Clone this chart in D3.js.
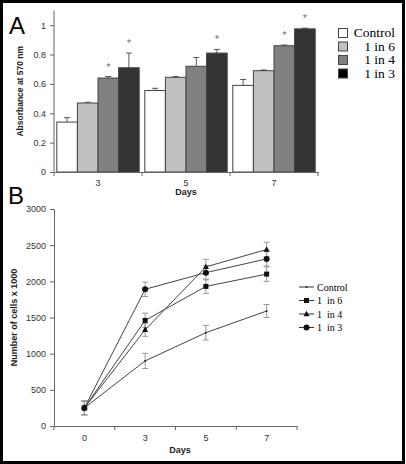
<!DOCTYPE html>
<html><head><meta charset="utf-8">
<script src="https://cdn.jsdelivr.net/npm/d3@7"></script>
<style>
body{margin:0;background:#fff;}
svg{display:block;font-family:Arial, "Liberation Sans", sans-serif;}
</style></head>
<body>
<svg id="c" width="406" height="464"></svg>
<script>
// ---------- Panel A data ----------
const daysA = ["3","5","7"];
const seriesNames = ["Control","1 in 6","1 in 4","1 in 3"];
const barColors = ["#ffffff","#c0c0c0","#808080","#333333"];
const legendColors = ["#ffffff","#c0c0c0","#808080","#000000"];
const absControl = [0.34, 0.555, 0.59];
const absSix     = [0.47, 0.645, 0.69];
const absFour    = [0.64, 0.72, 0.86];
const absThree   = [0.71, 0.81, 0.975];
const errControl = [0.03, 0.015, 0.04];
const errSix     = [0.005, 0.005, 0.005];
const errFour    = [0.01, 0.06, 0.005];
const errThree   = [0.10, 0.025, 0.005];
const starFour   = [true, false, true];
const starThree  = [true, true, true];
const yTicksA = [0, 0.2, 0.4, 0.6, 0.8, 1];
const yTickLabelsA = ["0","0.2","0.4","0.6","0.8","1"];

// ---------- Panel B data ----------
const daysB = ["0","3","5","7"];
const cellsControl = [250, 900, 1290, 1590];
const cellsSix     = [250, 1460, 1930, 2100];
const cellsFour    = [250, 1330, 2200, 2440];
const cellsThree   = [250, 1890, 2120, 2310];
const cerrControl  = [95, 105, 100, 90];
const cerrSix      = [95, 100, 100, 100];
const cerrFour     = [95, 90, 105, 100];
const cerrThree    = [95, 100, 100, 100];
const yTicksB = [0, 500, 1000, 1500, 2000, 2500, 3000];

const svg = d3.select("#c");
const axisColor = "#666";
const labelColor = "#333";
const serif = "'Liberation Serif','Times New Roman',serif";

// frame
svg.append("rect").attr("x",1.5).attr("y",1.5).attr("width",402).attr("height",461)
  .attr("fill","none").attr("stroke","#000").attr("stroke-width",3);

// ================= Panel A =================
const absVals = [absControl, absSix, absFour, absThree];
const absErr = [errControl, errSix, errFour, errThree];
const stars = [[false,false,false],[false,false,false], starFour, starThree];

const xA = d3.scaleBand().domain(daysA).range([54, 318]).paddingInner(0).paddingOuter(0);
const xInner = d3.scaleBand().domain(seriesNames).range([0, xA.bandwidth()]).paddingOuter(0.136);
const yA = d3.scaleLinear().domain([0, 1.1]).range([172, 10.5]);

const gA = svg.append("g");
seriesNames.forEach((s, si) => {
  daysA.forEach((d, di) => {
    const v = absVals[si][di];
    const x0 = xA(d) + xInner(s);
    const w = xInner.bandwidth();
    const e = absErr[si][di];
    gA.append("line").attr("x1", x0 + w/2).attr("x2", x0 + w/2)
      .attr("y1", yA(v)).attr("y2", yA(v + e)).attr("stroke","#555").attr("stroke-width",1);
    gA.append("line").attr("x1", x0 + w/2 - 3).attr("x2", x0 + w/2 + 3)
      .attr("y1", yA(v + e)).attr("y2", yA(v + e)).attr("stroke","#555").attr("stroke-width",1);
    gA.append("rect").attr("x", x0).attr("y", yA(v)).attr("width", w).attr("height", yA(0) - yA(v))
      .attr("fill", barColors[si]).attr("stroke","#444").attr("stroke-width",1);
    if (stars[si][di]) {
      gA.append("text").attr("x", x0 + w/2).attr("y", yA(v + e) - 6)
        .attr("text-anchor","middle").attr("font-size",11).attr("fill","#777").text("*");
    }
  });
});

const yAxisA = d3.axisLeft(yA).tickValues(yTicksA).tickSize(4)
  .tickFormat((d,i) => yTickLabelsA[i]);
const gyA = gA.append("g").attr("transform","translate(54,0)").call(yAxisA);
gyA.attr("font-family",null);
gyA.select(".domain").attr("stroke",axisColor).attr("d", `M-0,${yA(1.1)}V${yA(0)}`);
gyA.selectAll(".tick line").attr("stroke",axisColor);
gyA.selectAll(".tick text").attr("font-size",9).attr("fill",labelColor).attr("dx",-1);

const xAxisA = d3.axisBottom(xA).tickSize(0).tickPadding(8);
const gxA = gA.append("g").attr("transform",`translate(0,${yA(0)})`).call(xAxisA);
gxA.attr("font-family",null);
gxA.select(".domain").attr("stroke",axisColor);
gxA.selectAll(".tick text").attr("font-size",9).attr("fill",labelColor);
const bndA = daysA.map(d => xA(d)).concat([xA(daysA[daysA.length-1]) + xA.bandwidth()]);
gxA.selectAll(".bt").data(bndA).enter().append("line")
  .attr("x1",d=>d).attr("x2",d=>d).attr("y1",0).attr("y2",4).attr("stroke",axisColor);

gA.append("text").attr("x",186).attr("y",195).attr("text-anchor","middle")
  .attr("font-size",9).attr("font-weight","bold").attr("fill","#222").text("Days");
gA.append("text").attr("transform",`translate(23,${(yA(0)+yA(1.1))/2}) rotate(-90)`)
  .attr("text-anchor","middle").attr("font-size",8.5).attr("font-weight","bold").attr("fill","#222")
  .text("Absorbance at 570 nm");
gA.append("text").attr("x",9).attr("y",34).attr("font-size",24).attr("fill","#000").text("A");

const legA = gA.append("g");
seriesNames.forEach((s, i) => {
  const yy = 33 + i*13.5;
  legA.append("rect").attr("x",338.5).attr("y",yy-4.5).attr("width",9).attr("height",9)
    .attr("fill",legendColors[i]).attr("stroke","#444").attr("stroke-width",1);
  legA.append("text").attr("x",395).attr("y",yy+4).attr("text-anchor","end")
    .style("font-family",serif).attr("font-size",13.5)
    .attr("fill","#000").text(s);
});

// ================= Panel B =================
const cells = [cellsControl, cellsSix, cellsFour, cellsThree];
const cerr = [cerrControl, cerrSix, cerrFour, cerrThree];
const xB = d3.scaleBand().domain(daysB).range([54, 297]);
const yB = d3.scaleLinear().domain([0, 3000]).range([426, 209]);
const cx = d => xB(d) + xB.bandwidth()/2;

const gB = svg.append("g");
const yAxisB = d3.axisLeft(yB).tickValues(yTicksB).tickSize(4).tickFormat(d3.format("d"));
const gyB = gB.append("g").attr("transform","translate(54,0)").call(yAxisB);
gyB.attr("font-family",null);
gyB.select(".domain").attr("stroke",axisColor);
gyB.selectAll(".tick line").attr("stroke",axisColor);
gyB.selectAll(".tick text").attr("font-size",9).attr("fill",labelColor).attr("dx",-1);

const xAxisB = d3.axisBottom(xB).tickSize(0).tickPadding(9);
const gxB = gB.append("g").attr("transform",`translate(0,${yB(0)})`).call(xAxisB);
gxB.attr("font-family",null);
gxB.select(".domain").attr("stroke",axisColor);
gxB.selectAll(".tick text").attr("font-size",9).attr("fill",labelColor);
const bndB = daysB.map(d => xB(d)).concat([xB(daysB[daysB.length-1]) + xB.bandwidth()]);
gxB.selectAll(".bt").data(bndB).enter().append("line")
  .attr("x1",d=>d).attr("x2",d=>d).attr("y1",0).attr("y2",4).attr("stroke",axisColor);

gB.append("text").attr("x",180).attr("y",453).attr("text-anchor","middle")
  .attr("font-size",9).attr("font-weight","bold").attr("fill","#222").text("Days");
gB.append("text").attr("transform",`translate(17,${(yB(0)+yB(3000))/2}) rotate(-90)`)
  .attr("text-anchor","middle").attr("font-size",9).attr("font-weight","bold").attr("fill","#222")
  .text("Number of cells x 1000");
gB.append("text").attr("x",8).attr("y",204).attr("font-size",24).attr("fill","#000").text("B");

cells.forEach((arr, si) => {
  arr.forEach((v, di) => {
    const x = cx(daysB[di]), e = cerr[si][di];
    gB.append("line").attr("x1",x).attr("x2",x).attr("y1",yB(v-e)).attr("y2",yB(v+e))
      .attr("stroke","#999").attr("stroke-width",1);
    [v-e, v+e].forEach(t => gB.append("line").attr("x1",x-3).attr("x2",x+3)
      .attr("y1",yB(t)).attr("y2",yB(t)).attr("stroke","#999").attr("stroke-width",1));
  });
});
const line = d3.line().x((d,i)=>cx(daysB[i])).y(d=>yB(d));
cells.forEach(arr => {
  gB.append("path").attr("d", line(arr)).attr("fill","none").attr("stroke","#444").attr("stroke-width",1);
});
function marker(g, type, x, y) {
  if (type === 0) g.append("circle").attr("cx",x).attr("cy",y).attr("r",1).attr("fill","#222");
  else if (type === 1) g.append("rect").attr("x",x-2.5).attr("y",y-2.5).attr("width",5).attr("height",5).attr("fill","#111");
  else if (type === 2) g.append("path").attr("d",`M${x},${y-3.2}L${x+3},${y+2.2}L${x-3},${y+2.2}Z`).attr("fill","#111");
  else g.append("circle").attr("cx",x).attr("cy",y).attr("r",3).attr("fill","#111");
}
cells.forEach((arr, si) => arr.forEach((v, di) => marker(gB, si, cx(daysB[di]), yB(v))));

const legB = gB.append("g");
seriesNames.forEach((s, i) => {
  const yy = 287 + i*13.5;
  legB.append("line").attr("x1",299).attr("x2",314).attr("y1",yy).attr("y2",yy)
    .attr("stroke","#333").attr("stroke-width",1);
  marker(legB, i, 306.5, yy);
  legB.append("text").attr("x",317).attr("y",yy+3.5).style("white-space","pre")
    .style("font-family",serif).attr("font-size",10)
    .attr("fill","#000").text(s.replace(" in ", "  in "));
});
</script>
</body></html>
